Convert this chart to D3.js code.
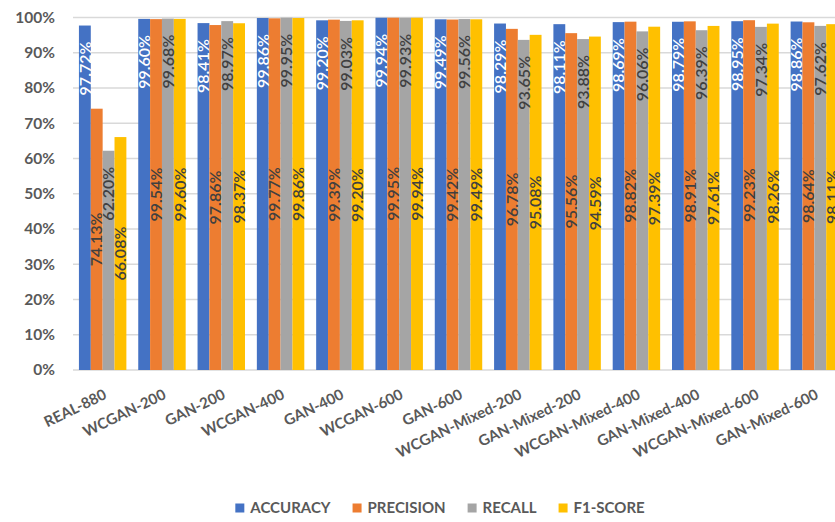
<!DOCTYPE html>
<html>
<head>
<meta charset="utf-8">
<script src="https://cdn.jsdelivr.net/npm/d3@7"></script>
<style>
  html, body { margin: 0; padding: 0; background: #fff; }
  svg { display: block; font-family: Lato, "Open Sans", sans-serif; }
</style>
</head>
<body>
<svg id="chart" width="835" height="522"></svg>
<script>
// Classifier scores for real vs. synthetic (GAN / WCGAN) training sets, in percent
const categories = [
  "REAL-880", "WCGAN-200", "GAN-200", "WCGAN-400", "GAN-400", "WCGAN-600", "GAN-600",
  "WCGAN-Mixed-200", "GAN-Mixed-200", "WCGAN-Mixed-400", "GAN-Mixed-400",
  "WCGAN-Mixed-600", "GAN-Mixed-600"
];
const seriesNames = ["ACCURACY", "PRECISION", "RECALL", "F1-SCORE"];
const accuracy  = [97.72, 99.60, 98.41, 99.86, 99.20, 99.94, 99.49, 98.29, 98.11, 98.69, 98.79, 98.95, 98.86];
const precision = [74.13, 99.54, 97.86, 99.77, 99.39, 99.95, 99.42, 96.78, 95.56, 98.82, 98.91, 99.23, 98.64];
const recall    = [62.20, 99.68, 98.97, 99.95, 99.03, 99.93, 99.56, 93.65, 93.88, 96.06, 96.39, 97.34, 97.62];
const f1score   = [66.08, 99.60, 98.37, 99.86, 99.20, 99.94, 99.49, 95.08, 94.59, 97.39, 97.61, 98.26, 98.11];
const yTicks = [0, 10, 20, 30, 40, 50, 60, 70, 80, 90, 100];

const seriesValues = [accuracy, precision, recall, f1score];
const colors = ["#4472C4", "#ED7D31", "#A5A5A5", "#FFC000"];
// label placement per series: inside the bar end, or centred in the bar
const labelPos = ["end", "center", "end", "center"];
const labelFill = ["#ffffff", "#404040", "#404040", "#404040"];

const svg = d3.select("#chart");
const plot = { left: 73, right: 844, top: 17.5, bottom: 370 };

const x0 = d3.scaleBand()
  .domain(categories)
  .range([plot.left, plot.right])
  .paddingInner(0.2)
  .paddingOuter(0.1);

const x1 = d3.scaleBand()
  .domain(seriesNames)
  .range([0, x0.bandwidth()]);

const y = d3.scaleLinear().domain([0, 100]).range([plot.bottom, plot.top]);

// horizontal gridlines
svg.append("g")
  .selectAll("line")
  .data(yTicks)
  .join("line")
  .attr("x1", plot.left)
  .attr("x2", plot.right)
  .attr("y1", d => y(d))
  .attr("y2", d => y(d))
  .attr("stroke", "#d9d9d9")
  .attr("stroke-width", 1.3);

// y axis labels
const yAxis = svg.append("g")
  .attr("transform", `translate(${plot.left - 18},0)`)
  .call(d3.axisLeft(y).tickValues(yTicks).tickFormat(d => d + "%").tickSize(0).tickPadding(0));
yAxis.select(".domain").remove();
yAxis.selectAll("text")
  .attr("fill", "#595959")
  .attr("font-size", 15.5)
  .attr("font-weight", 700)
  .attr("font-family", "Lato, sans-serif");

// rows of bars
const rows = categories.map((c, i) => ({
  cat: c,
  vals: seriesNames.map((s, k) => ({ s, k, v: seriesValues[k][i] }))
}));

const groups = svg.append("g")
  .selectAll("g")
  .data(rows)
  .join("g")
  .attr("transform", d => `translate(${x0(d.cat)},0)`);

groups.selectAll("rect")
  .data(d => d.vals)
  .join("rect")
  .attr("x", d => x1(d.s))
  .attr("width", x1.bandwidth())
  .attr("y", d => y(d.v))
  .attr("height", d => y(0) - y(d.v))
  .attr("fill", d => colors[d.k]);

// rotated value labels
groups.selectAll("text")
  .data(d => d.vals)
  .join("text")
  .attr("transform", d => {
    const cx = x1(d.s) + x1.bandwidth() / 2;
    const cy = labelPos[d.k] === "end" ? y(d.v) + 16 : (y(d.v) + y(0)) / 2;
    return `translate(${cx},${cy}) rotate(-90)`;
  })
  .attr("text-anchor", d => labelPos[d.k] === "end" ? "end" : "middle")
  .attr("dy", "0.36em")
  .attr("fill", d => labelFill[d.k])
  .attr("font-size", 16)
  .attr("font-weight", 600)
  .text(d => d.v.toFixed(2) + "%");

// category labels, slanted
svg.append("g")
  .selectAll("text")
  .data(categories)
  .join("text")
  .attr("transform", d => `translate(${x0(d) + x0.bandwidth() / 2 + 5},${plot.bottom + 28}) rotate(-26)`)
  .attr("text-anchor", "end")
  .attr("fill", "#595959")
  .attr("font-size", 15)
  .attr("font-weight", 700)
  .text(d => d);

// legend
const legend = svg.append("g");
const items = legend.selectAll("g")
  .data(seriesNames)
  .join("g");
items.append("rect")
  .attr("width", 9)
  .attr("height", 9)
  .attr("y", -4.5)
  .attr("fill", (d, i) => colors[i]);
items.append("text")
  .attr("x", 15)
  .attr("dy", "0.36em")
  .attr("fill", "#595959")
  .attr("font-size", 15)
  .attr("font-weight", 700)
  .text(d => d);
let cursor = 0;
items.each(function () {
  const g = d3.select(this);
  g.attr("transform", `translate(${cursor},0)`);
  cursor += 15 + g.select("text").node().getComputedTextLength() + 22;
});
const legendWidth = cursor - 22;
legend.attr("transform", `translate(${440 - legendWidth / 2},508)`);
</script>
</body>
</html>
